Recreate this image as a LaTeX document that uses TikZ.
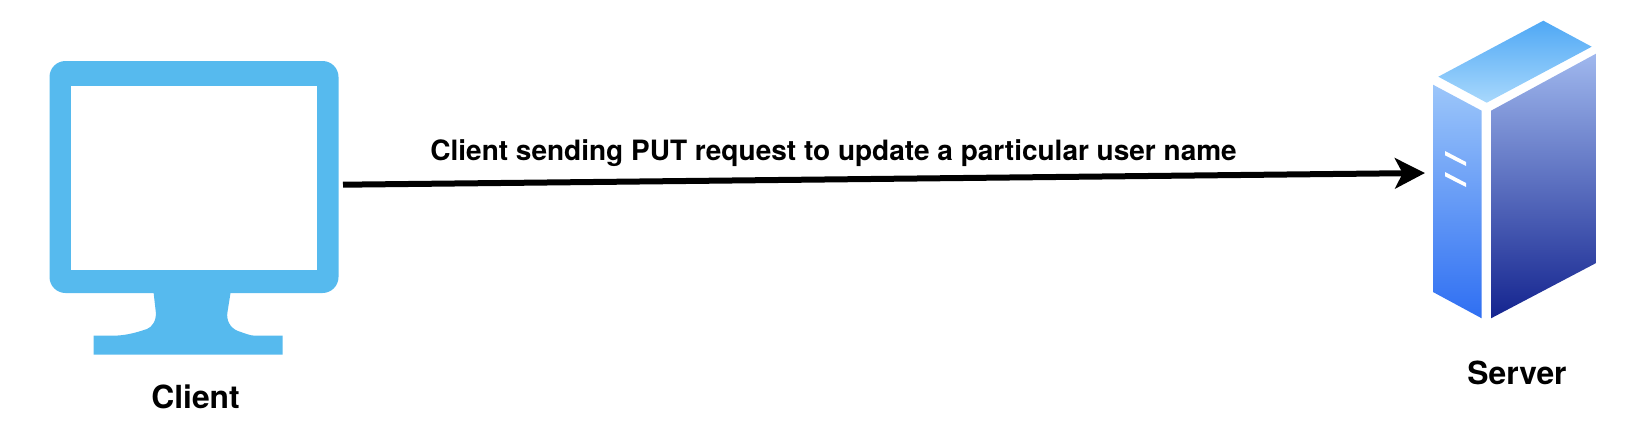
\documentclass[tikz,border=0pt]{standalone}
\usepackage{fontspec}
\setmainfont{TeX Gyre Heros}
\usetikzlibrary{arrows.meta}
\definecolor{monitorblue}{HTML}{56BAEE}
\definecolor{topA}{HTML}{4FA8F5}
\definecolor{topB}{HTML}{A8D8FC}
\definecolor{leftA}{HTML}{9CC6FA}
\definecolor{leftB}{HTML}{2F6FF2}
\definecolor{rightA}{HTML}{A0B8EE}
\definecolor{rightB}{HTML}{14248F}
\tikzset{
  px/.style={x=0.5pt,y=-0.5pt},
  monitorshape/.style={fill=monitorblue,draw=none},
  slot/.style={fill=white,draw=none},
  toplabel/.style={anchor=base west,inner sep=0pt,font=\bfseries\fontsize{14}{16}\selectfont},
  iconlabel/.style={anchor=base west,inner sep=0pt,font=\bfseries\fontsize{15.9}{18}\selectfont},
  requestarrow/.style={line width=3pt,-{Stealth[length=15pt,width=15.2pt,inset=3.85pt]}}
}
\begin{document}
\begin{tikzpicture}[px]
\useasboundingbox (0,0) rectangle (1634,430);
% Client monitor
\fill[monitorshape,rounded corners=8pt] (49.5,61) rectangle (338.5,293);
\fill[monitorshape] (153.3,290) -- (155.8,312)
  .. controls (156.5,321) and (152,327) .. (147,329)
  .. controls (135,333) and (125,335.7) .. (112,335.7)
  -- (93.5,335.7) -- (93.5,354.7) -- (282.7,354.7) -- (282.7,335.7) -- (255,335.7)
  .. controls (250,335.7) and (244,333) .. (238,331)
  .. controls (230,328) and (226,320) .. (227.5,312)
  -- (231,290) -- cycle;
\fill[white] (71,86) rectangle (316.7,270.3);
% Server
\shade[top color=topA,bottom color=topB] (1543.3,20.7) -- (1591.7,46.7) -- (1486.7,102.7) -- (1438.3,76.7) -- cycle;
\shade[top color=leftA,bottom color=leftB] (1433,84.7) -- (1481.7,110.7) -- (1481.7,318.3) -- (1433,292) -- cycle;
\shade[top color=rightA,bottom color=rightB] (1491,110.7) -- (1596.7,53.3) -- (1596.7,262.7) -- (1491,318.3) -- cycle;
\fill[slot] (1445,151) -- (1466,162) -- (1466,166) -- (1445,155.3) -- cycle;
\fill[slot] (1445,172) -- (1466,183) -- (1466,187) -- (1445,176.3) -- cycle;
% Connector
\coordinate (clientport) at (343,184.7);
\coordinate (serverport) at (1425,173);
\draw[requestarrow] (clientport) -- (serverport);
% Labels
\node[toplabel] (request) at (430,160) {Client sending PUT request to update a particular user name};
\node[iconlabel] (clientlabel) at (151,408) {Client};
\node[iconlabel] (serverlabel) at (1467,384) {Server};
\end{tikzpicture}
\end{document}
